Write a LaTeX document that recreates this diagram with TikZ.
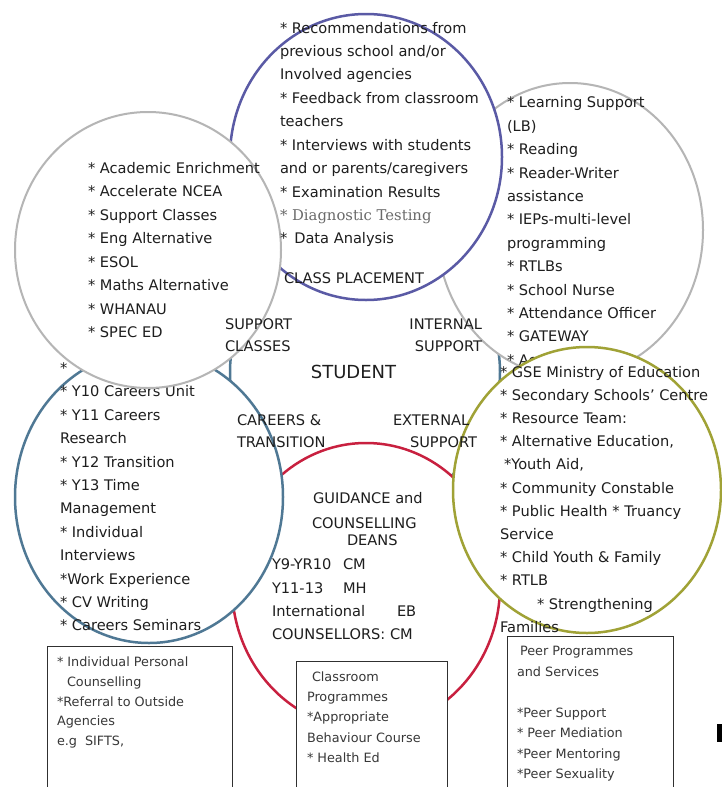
\documentclass[tikz,border=0pt]{standalone}
\usepackage{fontspec}
\setmainfont{DejaVu Sans}
\newfontfamily\diagserif{DejaVu Serif}
\definecolor{cpblue}{HTML}{5A5AA5}
\definecolor{ringgrey}{HTML}{B5B5B5}
\definecolor{careerteal}{HTML}{4F7894}
\definecolor{guidred}{HTML}{C8203F}
\definecolor{extolive}{HTML}{A0A236}
\definecolor{ink}{HTML}{1E1E1E}
\definecolor{diag}{HTML}{6A6A6A}
\definecolor{boxline}{HTML}{303030}
\definecolor{boxink}{HTML}{383838}
\newcommand\bodyfont[1]{\fontsize{14.6}{#1}\selectfont}
\newcommand\boxfont[1]{\fontsize{12.8}{#1}\selectfont}
\newcommand\headfont{\fontsize{14.6}{17}\selectfont}
\tikzset{
  bub/.style={draw=#1, fill=white, line width=2.5pt},
  greybub/.style={draw=ringgrey, fill=white, line width=2pt},
  txt/.style={inner sep=0pt, outer sep=0pt, anchor=north west, align=left, text=ink},
  hd/.style={inner sep=0pt, outer sep=0pt, anchor=base west, text=ink, font=\headfont},
  hdr/.style={hd, anchor=base east},
  boxframe/.style={draw=boxline, fill=white, line width=1.3pt, inner sep=0pt, anchor=north west},
  boxtxt/.style={inner sep=0pt, outer sep=0pt, anchor=north west, align=left, text=boxink}
}
\begin{document}
\begin{tikzpicture}[x=1pt,y=-1pt]
\clip (0,0) rectangle (722,787);
\fill[white] (0,0) rectangle (722,787);

% central STUDENT circle (mostly hidden)
\draw[bub=careerteal] (365,372) circle [radius=135pt];
% guidance (red)
\draw[bub=guidred] (366,586) ellipse [x radius=134pt, y radius=143pt];
% internal support (grey right)
\draw[greybub] (570,230) ellipse [x radius=133pt, y radius=147pt];
\node[txt, font=\bodyfont{23.4}] (ist) at (507,91.6) {\strut* Learning Support\\
(LB)\\
* Reading\\
* Reader-Writer\\
assistance\\
* IEPs-multi-level\\
programming\\
* RTLBs\\
* School Nurse\\
* Attendance Officer\\
* GATEWAY\\
* Ac};
% class placement (blue)
\draw[bub=cpblue] (366,157) ellipse [x radius=136pt, y radius=143pt];
% careers (teal)
\draw[bub=careerteal] (149,497) ellipse [x radius=134pt, y radius=146pt];
\node[txt, font=\bodyfont{23.4}] (crt) at (60,357.1) {\strut*\\
* Y10 Careers Unit\\
* Y11 Careers\\
Research\\
* Y12 Transition\\
* Y13 Time\\
Management\\
* Individual\\
Interviews\\
*Work Experience\\
* CV Writing\\
* Careers Seminars};
% support classes (grey left)
\draw[greybub] (148,250) ellipse [x radius=133pt, y radius=138pt];
% external support (olive)
\draw[bub=extolive] (587,490) ellipse [x radius=134pt, y radius=143pt];

% texts
\node[txt, font=\bodyfont{23.44}] (cpt) at (280,16.6) {\strut* Recommendations from\\
previous school and/or\\
Involved agencies\\
* Feedback from classroom\\
teachers\\
* Interviews with students\\
and or parents/caregivers\\
* Examination Results\\
{\color{diag}\diagserif\fontsize{14.8}{23.44}\selectfont * Diagnostic Testing}\\
*\hspace{7pt}Data Analysis};
\node[hd] (cph) at (284,283.3) {CLASS PLACEMENT};

\node[txt, font=\bodyfont{23.55}] (sct) at (88,156.6) {\strut* Academic Enrichment\\
* Accelerate NCEA\\
* Support Classes\\
* Eng Alternative\\
* ESOL\\
* Maths Alternative\\
* WHANAU\\
* SPEC ED};

\node[txt, font=\bodyfont{23.2}] (ext) at (500,360.8) {\strut* GSE Ministry of Education\\
* Secondary Schools' Centre\\
* Resource Team:\\
* Alternative Education,\\
\hspace{4pt}*Youth Aid,\\
* Community Constable\\
* Public Health * Truancy\\
Service\\
* Child Youth \& Family\\
* RTLB\\
\hspace{37pt}* Strengthening\\
Families};

% guidance texts
\node[hd] (gh1) at (313,503) {GUIDANCE and};
\node[hd] (gh2) at (312,528) {COUNSELLING};
\node[hd] (gh3) at (347,545) {DEANS};
\node[txt, font=\bodyfont{23.3}] (gcl) at (272,553.6) {\strut Y9-YR10\\
Y11-13\\
International\\
COUNSELLORS: CM};
\node[txt, font=\bodyfont{23.3}] (gcr) at (343,553.6) {\strut CM\\
MH};
\node[txt, font=\bodyfont{23.3}] (gce) at (397,600.2) {\strut EB};

% headings around STUDENT
\node[hd] (sc1) at (225,329.3) {SUPPORT};
\node[hd] (sc2) at (225,351.3) {CLASSES};
\node[hdr] (is1) at (482,329.3) {INTERNAL};
\node[hdr] (is2) at (482,351.3) {SUPPORT};
\node[inner sep=0pt, anchor=base, text=ink, font=\fontsize{18}{20}\selectfont] (stu) at (353.5,378.5) {STUDENT};
\node[hd] (ct1) at (237,425.3) {CAREERS \&};
\node[hd] (ct2) at (237,447.3) {TRANSITION};
\node[hd] (es1) at (393,425.3) {EXTERNAL};
\node[hd] (es2) at (410,447.3) {SUPPORT};

% boxes
\node[boxframe, minimum width=185pt, minimum height=170pt] (lbox) at (47,646) {};
\node[boxtxt, font=\boxfont{19.8}] (lboxt) at (57,652.6) {\strut* Individual Personal\\
\hspace{10pt}Counselling\\
*Referral to Outside\\
Agencies\\
e.g\hspace{8pt}SIFTS,};
\node[boxframe, minimum width=151pt, minimum height=150pt] (mbox) at (296,661) {};
\node[boxtxt, font=\boxfont{20.2}] (mboxt) at (307,667.4) {\strut\hspace{5pt}Classroom\\
Programmes\\
*Appropriate\\
Behaviour Course\\
* Health Ed};
\node[boxframe, minimum width=166pt, minimum height=170pt] (rbox) at (507,636) {};
\node[boxtxt, font=\boxfont{20.5}] (rboxt) at (517,641.2) {\strut\hspace{3pt}Peer Programmes\\
and Services\\
\strut\\
*Peer Support\\
* Peer Mediation\\
*Peer Mentoring\\
*Peer Sexuality};

% small black mark at right edge
\fill[black] (717,724) rectangle (722,742);
\end{tikzpicture}
\end{document}
